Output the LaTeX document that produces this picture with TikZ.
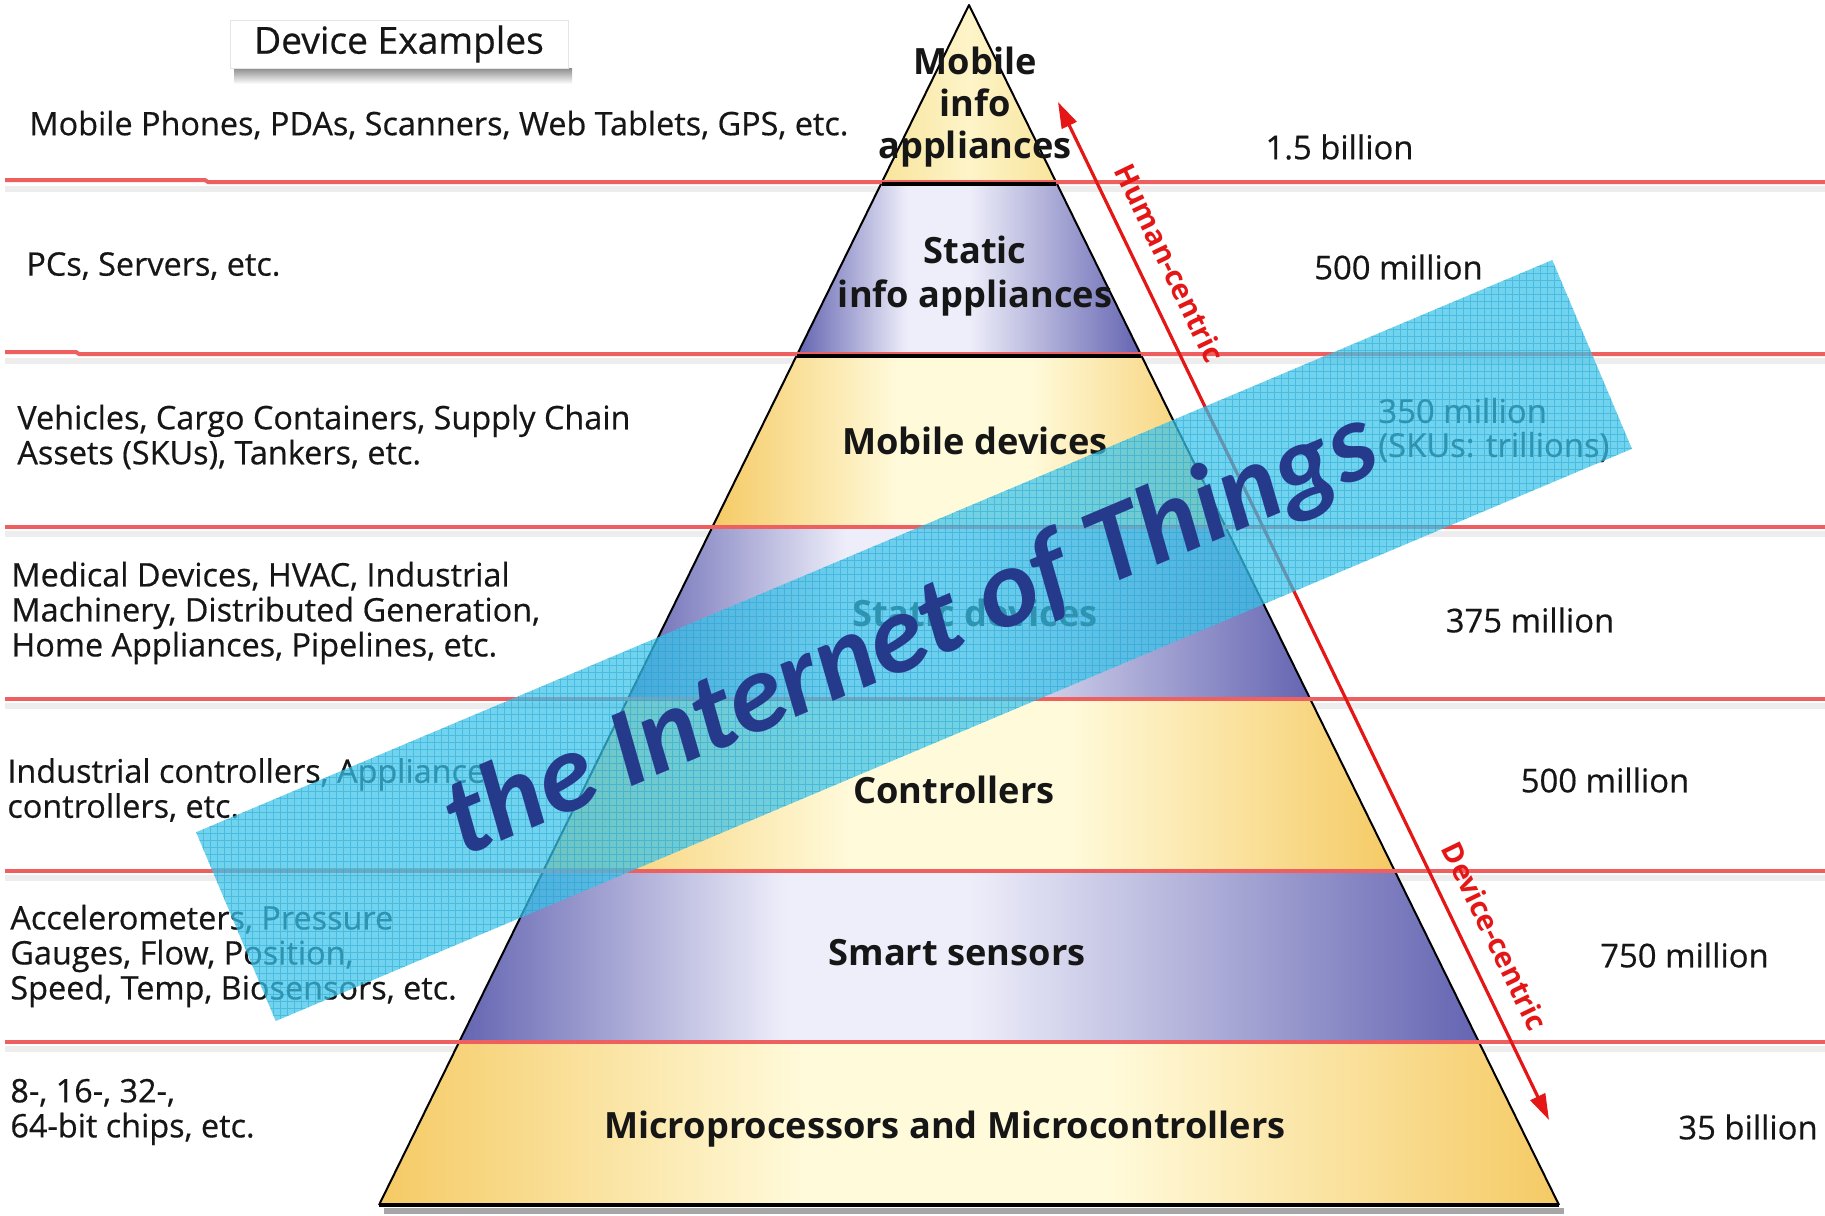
\documentclass[tikz,border=0pt]{standalone}
\usepackage{fontspec}
\setmainfont{Open Sans}
\newfontfamily\medfont{Open Sans}[FakeBold=0.5]
\newfontfamily\bannerfont{Carlito}
\usetikzlibrary{arrows.meta,calc}

\definecolor{redline}{RGB}{238,95,95}
\definecolor{arrowred}{RGB}{228,22,22}
\definecolor{gold}{RGB}{245,202,100}
\definecolor{cream}{RGB}{255,250,218}
\definecolor{purp}{RGB}{100,100,178}
\definecolor{lav}{RGB}{238,238,250}
\definecolor{paleA}{RGB}{248,228,155}
\definecolor{paleB}{RGB}{253,244,200}
\definecolor{bannercyan}{RGB}{60,195,232}
\definecolor{gridcyan}{RGB}{25,160,212}
\definecolor{iotblue}{RGB}{38,58,140}
\definecolor{txt}{RGB}{22,22,22}

\pgfdeclarehorizontalshading{goldshade}{100bp}{color(0bp)=(gold); color(25bp)=(gold); color(43bp)=(cream); color(56bp)=(cream); color(75bp)=(gold); color(100bp)=(gold)}
\pgfdeclarehorizontalshading{purpshade}{100bp}{color(0bp)=(purp); color(25bp)=(purp); color(41bp)=(lav); color(50bp)=(lav); color(75bp)=(purp); color(100bp)=(purp)}
\pgfdeclarehorizontalshading{paleshade}{100bp}{color(0bp)=(paleA); color(25bp)=(paleA); color(50bp)=(paleB); color(75bp)=(paleA); color(100bp)=(paleA)}

\begin{document}
\begin{tikzpicture}[x=0.5pt,y=-0.5pt,
  redrule/.style={draw=redline,line width=2pt},
  ruleshadow/.style={draw=black!7,line width=3pt},
  lefttxt/.style={anchor=west,align=left,font=\medfont\fontsize{16.2}{17.5}\selectfont,text=txt,inner sep=0pt},
  numtxt/.style={font=\medfont\fontsize{16.4}{17}\selectfont,text=txt,inner sep=0pt},
  layertxt/.style={font=\bfseries\fontsize{18.1}{21}\selectfont,text=txt,align=center,inner sep=0pt},
  centric/.style={font=\bfseries\fontsize{14.4}{16}\selectfont,text=arrowred,inner sep=0pt,rotate=-64.25},
  bigarrow/.style={draw=arrowred,line width=1.6pt,{Triangle[length=13pt,width=8pt]}-{Triangle[length=13pt,width=8pt]}}
]
\useasboundingbox[fill=white] (0,0) rectangle (1825,1215);

% rule shadows
\foreach \yy in {182,354,527,699,871,1042}{
  \draw[ruleshadow] (5,\yy+7) -- (1825,\yy+7);
}

% pyramid layers
\coordinate (apex) at (969,5);
\coordinate (bl) at (379,1205);
\coordinate (br) at (1559,1205);
\path[shading=paleshade] (apex) -- (1056,182) -- (882,182) -- cycle;
\path[shading=purpshade] (882,182) -- (1056,182) -- (1140.6,354) -- (797.4,354) -- cycle;
\path[shading=goldshade] (797.4,354) -- (1140.6,354) -- (1225.65,527) -- (712.35,527) -- cycle;
\path[shading=purpshade] (712.35,527) -- (1225.65,527) -- (1310.2,699) -- (627.8,699) -- cycle;
\path[shading=goldshade] (627.8,699) -- (1310.2,699) -- (1394.8,871) -- (543.2,871) -- cycle;
\path[shading=purpshade] (543.2,871) -- (1394.8,871) -- (1478.9,1042) -- (459.1,1042) -- cycle;
\path[shading=goldshade] (459.1,1042) -- (1478.9,1042) -- (br) -- (bl) -- cycle;

% pyramid outline
\draw[black!35,line width=3pt] (384,1211) -- (1564,1211);
\draw[black,line width=1pt,line join=round] (bl) -- (apex) -- (br);
\draw[black,line width=2pt] (bl) -- (br);

% red rules
\draw[redrule] (5,180) -- (205,180) -- (208,182) -- (1825,182);
\draw[redrule] (5,352) -- (76,352) -- (79,354) -- (1825,354);
\foreach \yy in {527,699,871,1042}{
  \draw[redrule] (5,\yy) -- (1825,\yy);
}
\draw[black,line width=1.6pt] (882,184) -- (1056,184);
\draw[black,line width=1.6pt] (797.4,356) -- (1140.6,356);

% left texts
\node[lefttxt] (ex1) at (29,125) {Mobile Phones, PDAs, Scanners, Web Tablets, GPS, etc.};
\node[lefttxt] (ex2) at (26,266) {PCs, Servers, etc.};
\node[lefttxt] (ex3) at (17,437) {Vehicles, Cargo Containers, Supply Chain\\Assets (SKUs), Tankers, etc.};
\node[lefttxt] (ex4) at (11,613) {Medical Devices, HVAC, Industrial\\Machinery, Distributed Generation,\\Home Appliances, Pipelines, etc.};
\node[lefttxt] (ex5) at (7,790) {Industrial controllers, Appliance\\controllers, etc.};
\node[lefttxt] (ex6) at (10,956) {Accelerometers, Pressure\\Gauges, Flow, Position,\\Speed, Temp, Biosensors, etc.};
\node[lefttxt] (ex7) at (10,1112) {8-, 16-, 32-,\\64-bit chips, etc.};

% right numbers
\node[numtxt] (n1) at (1339.5,147) {1.5 billion};
\node[numtxt] (n2) at (1398.5,267) {500 million};
\node[numtxt,anchor=west,align=left] (n3) at (1378,430) {350 million\\(SKUs: trillions)};
\node[numtxt] (n4) at (1530,620) {375 million};
\node[numtxt] (n5) at (1605,780) {500 million};
\node[numtxt] (n6) at (1684.5,955) {750 million};
\node[numtxt] (n7) at (1748,1127) {35 billion};

% pyramid labels
\node[layertxt] (l1) at (975,107) {Mobile\\info\\appliances};
\node[layertxt,font=\bfseries\fontsize{18.1}{22}\selectfont] (l2) at (975,276) {Static\\info appliances};
\node[layertxt] (l3) at (975,441) {Mobile devices};
\node[layertxt] (l4) at (975,613) {Static devices};
\node[layertxt] (l5) at (954,790) {Controllers};
\node[layertxt] (l6) at (957,953) {Smart sensors};
\node[layertxt] (l7) at (945,1129) {Microprocessors and Microcontrollers};

% human / device centric arrow
\coordinate (hctop) at (1058,102);
\coordinate (dcbot) at (1549,1120);
\draw[bigarrow] (hctop) -- (dcbot);
\node[centric] (hc) at (1170,263) {Human-centric};
\node[centric] (dc) at (1495,936) {Device-centric};

% device examples box
\shade[top color=black!45,bottom color=white] (234,68) rectangle (572,84);
\node[draw=black!10,fill=white,minimum width=169pt,minimum height=24pt,inner sep=0pt,
      font=\medfont\fontsize{18.6}{22}\selectfont,text=txt] (devex) at (399,44) {Device Examples};

% banner
\path[fill=bannercyan,fill opacity=0.72] (1552.3,260) -- (1631.9,448.8) -- (275.7,1021) -- (196.1,832.2) -- cycle;
\begin{scope}
  \clip (1552.3,260) -- (1631.9,448.8) -- (275.7,1021) -- (196.1,832.2) -- cycle;
  \draw[gridcyan,line width=0.3pt,opacity=0.45] (190,250) grid[step=3.5pt] (1640,1030);
\end{scope}
\node[rotate=22.87,font=\bannerfont\bfseries\itshape\fontsize{56}{60}\selectfont,text=iotblue,inner sep=0pt] (iot) at (912,636) {the Internet of Things};
\end{tikzpicture}
\end{document}
